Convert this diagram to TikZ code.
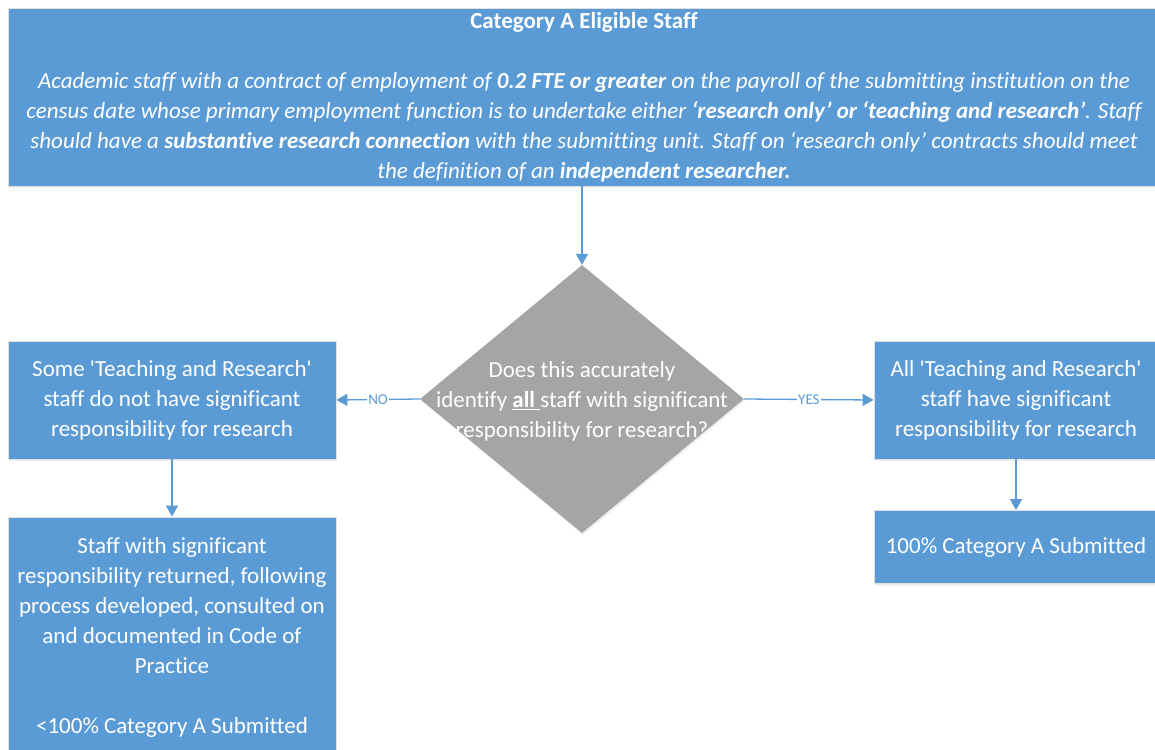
\documentclass[tikz,border=0pt]{standalone}
\usepackage{fontspec}
\setmainfont{Carlito}[Ligatures={TeX,NoCommon}]
\usetikzlibrary{arrows.meta,shapes.geometric,shadows}
\definecolor{boxblue}{HTML}{5B9BD5}
\definecolor{diagray}{HTML}{A5A5A5}
\newcommand{\sq}{\textquotesingle}
\begin{document}
\begin{tikzpicture}[x=1pt,y=-1pt,
  box/.style={rectangle, fill=boxblue, draw=black!12, line width=0.8pt, text=white,
    align=center, inner sep=0pt, font=\fontsize{23}{30}\selectfont,
    drop shadow={opacity=0.12, shadow xshift=1pt, shadow yshift=-2pt}},
  decision/.style={shape=diamond, fill=diagray, draw=none, inner sep=0pt,
    minimum width=324pt, minimum height=268pt,
    drop shadow={opacity=0.12, shadow xshift=1pt, shadow yshift=-2pt}},
  dtext/.style={text=white, align=center, font=\fontsize{23}{30}\selectfont, inner sep=0pt},
  conn/.style={draw=boxblue, line width=1.3pt, -{Triangle[width=12pt,length=11pt]}},
  elabel/.style={fill=white, text=boxblue, font=\fontsize{15}{15}\selectfont, inner sep=1pt}]
\useasboundingbox (0,0) rectangle (1155,749);
\clip (0,0) rectangle (1155,749);

\node[box, minimum width=1152pt, minimum height=178pt] (top) at (584,97) {%
  \textbf{Category A Eligible Staff}\\[30pt]
  \itshape Academic staff with a contract of employment of \textbf{0.2 FTE or greater} on the payroll of the submitting institution on the\\
  \itshape census date whose primary employment function is to undertake either \textbf{‘research only’ or ‘teaching and research’}. Staff\\
  \itshape should have a \textbf{substantive research connection} with the submitting unit. Staff on ‘research only’ contracts should meet\\
  \itshape the definition of an \textbf{independent researcher.}};

\node[decision] (dec) at (582,399) {};
\node[dtext] (dect) at ([yshift=-2pt]dec.center) {Does this accurately\\
  identify \underline{\textbf{all}\ }staff with significant\\
  responsibility for research?};

\node[box, minimum width=328pt, minimum height=118pt] (no) at (172,400) {%
  Some \sq Teaching and Research\sq\\ staff do not have significant\\ responsibility for research};
\node[box, minimum width=284pt, minimum height=118pt] (yes) at (1016,400) {%
  All \sq Teaching and Research\sq\\ staff have significant\\ responsibility for research};
\node[box, minimum width=328pt, minimum height=240pt] (lower) at (172,637) {%
  Staff with significant\\ responsibility returned, following\\ process developed, consulted on\\
  and documented in Code of\\ Practice\\[30pt] <100\% Category A Submitted};
\node[box, minimum width=284pt, minimum height=73pt] (full) at (1016,547) {%
  100\% Category A Submitted};

\draw[conn] (top.south -| dec.north) -- (dec.north);
\draw[conn] (dec.west) -- node[elabel] {NO} (no.east);
\draw[conn] (dec.east) -- node[elabel] {YES} (yes.west);
\draw[conn] (no.south) -- (lower.north);
\draw[conn] (yes.south) -- (full.north);
\end{tikzpicture}
\end{document}
